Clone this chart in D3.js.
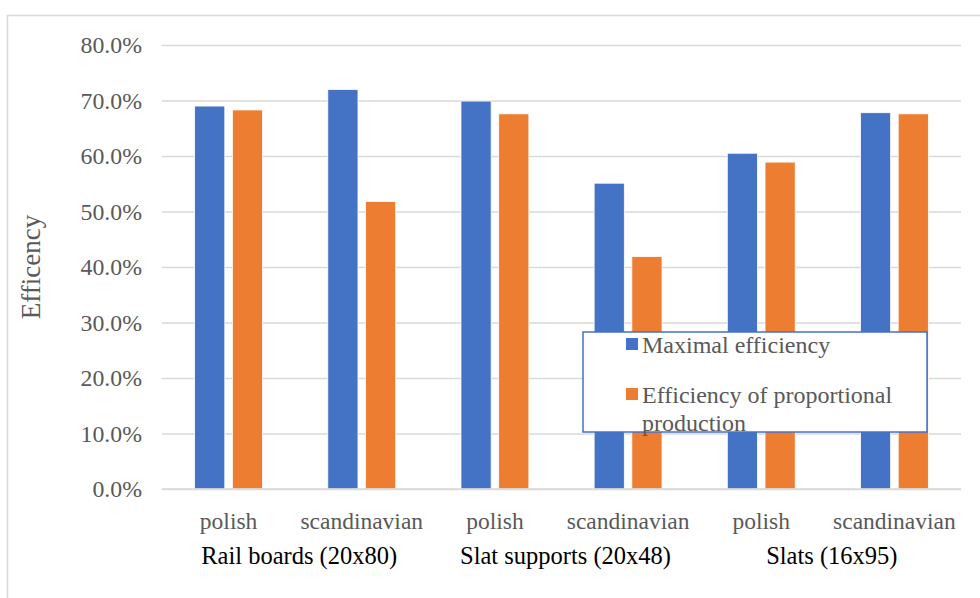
<!DOCTYPE html>
<html><head><meta charset="utf-8">
<script src="https://cdn.jsdelivr.net/npm/d3@7"></script>
<style>html,body{margin:0;padding:0;background:#fff;}svg{display:block;}</style>
</head><body>
<svg id="chart" width="980" height="598"></svg>
<script>
const categories = ["polish","scandinavian","polish","scandinavian","polish","scandinavian"];
const groups = ["Rail boards (20x80)","Slat supports (20x48)","Slats (16x95)"];
const seriesNames = ["Maximal efficiency","Efficiency of proportional production"];
const maximal = [0.690, 0.720, 0.699, 0.551, 0.605, 0.678];
const proportional = [0.683, 0.518, 0.676, 0.419, 0.589, 0.676];
const yTicks = [0,0.1,0.2,0.3,0.4,0.5,0.6,0.7,0.8];
const colors = ["#4472C4","#ED7D31"];

const svg = d3.select("#chart");
const font = "'Liberation Serif','Times New Roman',serif";
const plotL = 162, plotR = 961, plotT = 45, plotB = 489;

// chart area border
svg.append("rect").attr("x",7.5).attr("y",15.5).attr("width",1200).attr("height",800)
  .attr("fill","#fff").attr("stroke","#D9D9D9").attr("stroke-width",1.5);

const y = d3.scaleLinear().domain([0,0.8]).range([plotB, plotT]);
const x0 = d3.scaleBand().domain(d3.range(categories.length)).range([plotL,plotR])
  .paddingInner(0.49).paddingOuter(0.245);
const x1 = d3.scaleBand().domain([0,1]).range([0,x0.bandwidth()]).paddingInner(0.2);

// gridlines
const yAxis = d3.axisLeft(y).tickValues(yTicks).tickFormat(d3.format(".1%")).tickSize(-(plotR-plotL)).tickPadding(20);
const gy = svg.append("g").attr("transform",`translate(${plotL},0)`).call(yAxis);
gy.select(".domain").remove();
gy.selectAll(".tick line").attr("stroke","#D9D9D9").attr("stroke-width",1.5);
gy.selectAll(".tick text").attr("fill","#595959").style("font-family",font).style("font-size","23.8px");

// bars
const data = categories.map((c,i)=>({i, vals:[maximal[i], proportional[i]]}));
const g = svg.append("g");
g.selectAll("g.cat").data(data).join("g").attr("class","cat")
  .attr("transform",d=>`translate(${x0(d.i)},0)`)
  .selectAll("rect").data(d=>d.vals.map((v,k)=>({v,k}))).join("rect")
  .attr("x",d=>x1(d.k)).attr("width",x1.bandwidth())
  .attr("y",d=>y(d.v)).attr("height",d=>y(0)-y(d.v))
  .attr("fill",d=>colors[d.k]).attr("stroke","#fff").attr("stroke-width",0.8);

// baseline
svg.append("line").attr("x1",plotL).attr("x2",plotR).attr("y1",y(0)).attr("y2",y(0))
  .attr("stroke","#D9D9D9").attr("stroke-width",1.5);

// category labels
const xAxis = d3.axisBottom(x0).tickFormat(i=>categories[i]).tickSize(0).tickPadding(23);
const gx = svg.append("g").attr("transform",`translate(0,${plotB})`).call(xAxis);
gx.select(".domain").remove();
gx.selectAll(".tick text").attr("fill","#595959").style("font-family",font).style("font-size","23.5px");

// group labels
const step = x0.step();
svg.selectAll("text.grp").data(groups).join("text").attr("class","grp")
  .attr("x",(d,i)=> plotL + step*(2*i+1) + 4).attr("y",564)
  .attr("text-anchor","middle").attr("fill","#000")
  .style("font-family",font).style("font-size","24.5px").text(d=>d);

// y title
svg.append("text").attr("transform","translate(40,267) rotate(-90)")
  .attr("text-anchor","middle").attr("fill","#595959")
  .style("font-family",font).style("font-size","27px").text("Efficency");

// legend
const lg = svg.append("g");
lg.append("rect").attr("x",583).attr("y",332).attr("width",344).attr("height",100)
  .attr("fill","#fff").attr("stroke","#4472C4").attr("stroke-width",1.5);
const entryY = [353, 403];
seriesNames.forEach((name,k)=>{
  const by = entryY[k];
  lg.append("rect").attr("x",626).attr("y",by-15).attr("width",12).attr("height",12).attr("fill",colors[k]);
  const t = lg.append("text").attr("x",642).attr("y",by).attr("fill","#595959")
    .style("font-family",font).style("font-size","24px");
  const words = name.split(" ");
  let line = [], tspan = t.append("tspan").attr("x",642).attr("dy",0);
  words.forEach(w=>{
    line.push(w); tspan.text(line.join(" "));
    if (tspan.node().getComputedTextLength() > 278 && line.length>1) {
      line.pop(); tspan.text(line.join(" ")); line=[w];
      tspan = t.append("tspan").attr("x",642).attr("dy",28).text(w);
    }
  });
});
</script>
</body></html>
